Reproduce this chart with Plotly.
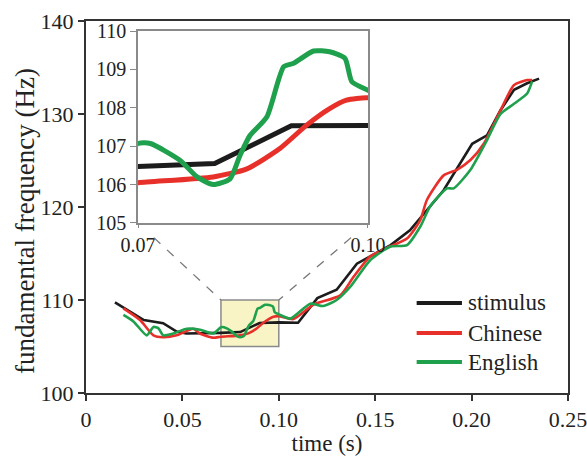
import plotly.graph_objects as go

# ---- data ----
stim_t = [0.015, 0.030, 0.040, 0.047, 0.052, 0.059, 0.070, 0.080, 0.090, 0.100, 0.110,
          0.120, 0.130, 0.1405, 0.1475, 0.158, 0.168, 0.177, 0.1855, 0.2003, 0.208,
          0.215, 0.222, 0.2288, 0.235]
stim_f = [109.75, 107.85, 107.5, 106.6, 106.4, 106.4, 106.47, 106.55, 107.53, 107.59, 107.55,
          110.2, 111.1, 113.9, 114.7, 115.9, 117.5, 119.7, 121.8, 126.8, 127.7,
          130.4, 132.6, 133.3, 133.8]

chin_t = [0.0194, 0.028, 0.035, 0.040, 0.047, 0.0557, 0.059, 0.066, 0.070, 0.0798, 0.0842,
          0.0885, 0.092, 0.095, 0.0972, 0.100, 0.1076, 0.118, 0.1319, 0.1388, 0.1475,
          0.156, 0.1665, 0.1734, 0.1768, 0.1855, 0.1924, 0.1994, 0.2063, 0.215, 0.2219,
          0.2288, 0.2314]
chin_f = [109.1, 107.85, 106.2, 106.0, 106.2, 106.9, 106.4, 105.95, 106.05, 106.2, 106.41,
          106.94, 107.55, 107.98, 108.2, 108.26, 107.95, 109.5, 110.5, 112.5, 114.7,
          115.6, 116.6, 118.6, 120.75, 123.4, 124.0, 125.05, 126.8, 130.4, 133.1,
          133.65, 133.65]

eng_t = [0.0194, 0.0246, 0.0315, 0.035, 0.0376, 0.040, 0.0453, 0.0523, 0.0592, 0.066,
         0.070, 0.0716, 0.0755, 0.0777, 0.0798, 0.082, 0.0833, 0.0846, 0.0868, 0.089,
         0.0903, 0.0929, 0.095, 0.097, 0.0979, 0.100, 0.106, 0.1163, 0.123, 0.130,
         0.137, 0.1475, 0.158, 0.1665, 0.1734, 0.1786, 0.1873, 0.1907, 0.1994, 0.208,
         0.215, 0.222, 0.2288, 0.2314]
eng_f = [108.4, 107.7, 106.2, 107.1, 106.95, 106.2, 106.4, 106.9, 106.8, 106.4,
         107.07, 107.07, 106.63, 106.2, 106.0, 106.15, 106.76, 107.28, 107.76, 109.07,
         109.16, 109.48, 109.46, 109.29, 108.68, 108.46, 108.0, 109.6, 109.35, 110.0,
         111.4, 114.3, 115.75, 115.9, 117.9, 120.1, 122.0, 122.0, 124.0, 127.2,
         130.0, 131.1, 132.2, 133.5]

series_names = ["stimulus", "Chinese", "English"]

x_ticks = [0, 0.05, 0.10, 0.15, 0.20, 0.25]
x_ticktext = ["0", "0.05", "0.10", "0.15", "0.20", "0.25"]
y_ticks = [100, 110, 120, 130, 140]
inset_x_ticks = [0.07, 0.10]
inset_x_ticktext = ["0.07", "0.10"]
inset_y_ticks = [105, 106, 107, 108, 109, 110]

main_xrange = [0, 0.25]
main_yrange = [100, 140]
inset_xrange = [0.07, 0.10]
inset_yrange = [105, 110]

# ---- style ----
FONT = "Liberation Serif, Times New Roman, serif"
colors = ["#1c1c1c", "#e8302a", "#1fa04c"]
inset_xdom = [0.108, 0.585]
inset_ydom = [0.457, 0.973]

fig = go.Figure()
data = [(stim_t, stim_f), (chin_t, chin_f), (eng_t, eng_f)]
shapes_kind = ["linear", "spline", "spline"]

for (t, f), c, shp, nm in zip(data, colors, shapes_kind, series_names):
    fig.add_trace(go.Scatter(x=t, y=f, mode="lines", name=nm, showlegend=False,
                             line=dict(color=c, width=2.6, shape=shp, smoothing=0.6),
                             xaxis="x", yaxis="y", hoverinfo="skip"))
for (t, f), c, shp, nm in zip(data, colors, shapes_kind, series_names):
    fig.add_trace(go.Scatter(x=t, y=f, mode="lines", name=nm, showlegend=False,
                             line=dict(color=c, width=5, shape=shp, smoothing=0.6),
                             xaxis="x2", yaxis="y2", hoverinfo="skip"))

# inset corners in main data coords
def to_main(px, py):
    return (main_xrange[0] + px * (main_xrange[1] - main_xrange[0]),
            main_yrange[0] + py * (main_yrange[1] - main_yrange[0]))

bl = to_main(inset_xdom[0], inset_ydom[0])
br = to_main(inset_xdom[1], inset_ydom[0])
tl = (inset_xrange[0], inset_yrange[1])
tr = (inset_xrange[1], inset_yrange[1])
frac = 0.19
def along(a, b, s):
    return (a[0] + (b[0] - a[0]) * s, a[1] + (b[1] - a[1]) * s)

s1 = along(bl, tl, frac)
s2 = along(br, tr, frac)

shapes = [
    dict(type="rect", xref="x", yref="y", x0=inset_xrange[0], x1=inset_xrange[1],
         y0=inset_yrange[0], y1=inset_yrange[1], fillcolor="#f8f4c6",
         line=dict(color="#8a8a8a", width=1.5), layer="below"),
    dict(type="line", xref="x", yref="y", x0=s1[0], y0=s1[1], x1=tl[0], y1=tl[1],
         line=dict(color="#777777", width=1.3, dash="dash")),
    dict(type="line", xref="x", yref="y", x0=s2[0], y0=s2[1], x1=tr[0], y1=tr[1],
         line=dict(color="#777777", width=1.3, dash="dash")),
]

# legend key (drawn in plot-area fractions)
leg_x0, leg_x1, leg_tx = 0.686, 0.78, 0.788
leg_y = [0.242, 0.161, 0.083]
annotations = []
for nm, c, yy in zip(series_names, colors, leg_y):
    shapes.append(dict(type="line", xref="paper", yref="paper", x0=leg_x0, x1=leg_x1,
                       y0=yy, y1=yy, line=dict(color=c, width=4)))
    annotations.append(dict(xref="paper", yref="paper", x=leg_tx, y=yy, text=nm,
                            showarrow=False, xanchor="left", yanchor="middle",
                            font=dict(size=23, color="#222222")))

# y-axis title (placed slightly below centre, as in the original)
annotations.append(dict(xref="paper", yref="paper", x=-0.127, y=0.462,
                        text="fundamental frequency (Hz)", textangle=-90,
                        showarrow=False, xanchor="center", yanchor="middle",
                        font=dict(size=27, color="#222222")))

fig.update_layout(
    width=587, height=456,
    margin=dict(l=86, r=19, t=21, b=63),
    paper_bgcolor="white", plot_bgcolor="white",
    font=dict(family=FONT, size=22, color="#222222"),
    shapes=shapes, annotations=annotations,
    showlegend=False,
    xaxis=dict(range=main_xrange, tickvals=x_ticks, ticktext=x_ticktext, automargin=False,
               ticklabeloverflow="allow",
               showgrid=False, zeroline=False, showline=True, mirror=True,
               linecolor="#333333", linewidth=2, ticks="outside", ticklen=6,
               tickwidth=2, tickcolor="#333333", tickfont=dict(size=22),
               title=dict(text="time (s)", font=dict(size=23), standoff=2)),
    yaxis=dict(range=main_yrange, tickvals=y_ticks, automargin=False,
               showgrid=False, zeroline=False, showline=True, mirror=True,
               linecolor="#333333", linewidth=2, ticks="outside", ticklen=6,
               tickwidth=2, tickcolor="#333333", tickfont=dict(size=22)),
    xaxis2=dict(domain=inset_xdom, anchor="y2", range=inset_xrange, automargin=False,
                tickvals=inset_x_ticks, ticktext=inset_x_ticktext,
                showgrid=False, zeroline=False, showline=True, mirror=True,
                linecolor="#8a8a8a", linewidth=1.5, ticks="outside", ticklen=3,
                tickcolor="#8a8a8a", tickfont=dict(size=20)),
    yaxis2=dict(domain=inset_ydom, anchor="x2", range=inset_yrange, automargin=False,
                tickvals=inset_y_ticks,
                showgrid=False, zeroline=False, showline=True, mirror=True,
                linecolor="#8a8a8a", linewidth=1.5, ticks="outside", ticklen=6,
                tickcolor="#8a8a8a", tickfont=dict(size=20)),
)

# inset background
fig.add_shape(type="rect", xref="x2 domain", yref="y2 domain", x0=0, x1=1, y0=0, y1=1,
              fillcolor="#fcf9d8", line=dict(width=0), layer="below")

# remove the page's default body margin so the figure fills the window exactly
fig.write_html("out.html", config={"displayModeBar": False},
               post_script="document.body.style.margin='0';document.body.style.overflow='hidden';")
